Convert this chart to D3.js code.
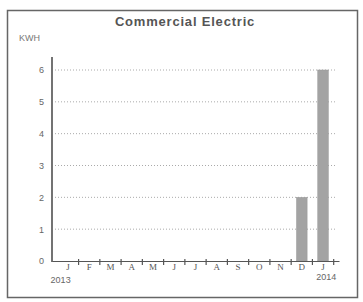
<!DOCTYPE html>
<html>
<head>
    <title>Commercial Electric</title>
    <script src="https://d3js.org/d3.v7.min.js"></script>
    <style>
        body { margin: 0; background: #fff; }
        text { font-family: "Liberation Sans", Arial, sans-serif; fill: #555; }
    </style>
</head>
<body>
    <div id="chart"></div>
    <script>
    // data
    let months = ["J", "F", "M", "A", "M", "J", "J", "A", "S", "O", "N", "D", "J"];
    let kwh = [0, 0, 0, 0, 0, 0, 0, 0, 0, 0, 0, 2, 6];
    let yTicks = [0, 1, 2, 3, 4, 5, 6];
    let years = ["2013", "2014"];

    let width = 363,
        height = 302;

    let svg = d3.select("#chart")
        .append("svg")
        .attr("width", width)
        .attr("height", height);

    // outer frame
    svg.append("rect")
        .attr("x", 7.5).attr("y", 10.5)
        .attr("width", 350).attr("height", 287)
        .attr("fill", "none")
        .attr("stroke", "#666")
        .attr("stroke-width", 1.5);

    let plotLeft = 52, plotRight = 339, plotTop = 57, plotBottom = 261;

    let idx = months.map((m, i) => i);
    let x = d3.scaleBand()
        .domain(idx)
        .range([plotLeft, plotRight])
        .padding(0.5);

    let y = d3.scaleLinear()
        .domain([0, 6])
        .range([plotBottom, 70]);

    // title + unit
    svg.append("text")
        .attr("x", 185).attr("y", 26)
        .attr("text-anchor", "middle")
        .style("font-size", "13px")
        .style("font-weight", "bold")
        .style("letter-spacing", "0.8px")
        .style("fill", "#555")
        .text("Commercial Electric");

    svg.append("text")
        .attr("x", 19).attr("y", 41)
        .style("font-size", "9px")
        .style("fill", "#777")
        .text("KWH");

    // dotted gridlines
    svg.selectAll(".grid")
        .data(yTicks.filter(d => d > 0))
        .enter()
        .append("line")
        .attr("class", "grid")
        .attr("x1", plotLeft + 3).attr("x2", plotRight - 4)
        .attr("y1", d => y(d)).attr("y2", d => y(d))
        .attr("stroke", "#aaa")
        .attr("stroke-width", 1)
        .attr("stroke-dasharray", "1,2");

    // bars
    svg.selectAll(".bar")
        .data(kwh)
        .enter()
        .append("rect")
        .attr("class", "bar")
        .attr("x", (d, i) => x(i))
        .attr("width", x.bandwidth())
        .attr("y", d => y(d))
        .attr("height", d => y(0) - y(d))
        .attr("fill", "#a3a3a3")
        .attr("stroke", "#999")
        .attr("stroke-width", 0.5);

    // y axis
    let yAxis = svg.append("g")
        .attr("transform", `translate(${plotLeft},0)`)
        .call(d3.axisLeft(y).tickValues(yTicks).tickFormat(d3.format("d")).tickSize(0).tickPadding(8));
    yAxis.select(".domain").remove();
    yAxis.selectAll("text")
        .style("font-size", "9px")
        .style("font-family", "'Liberation Sans', Arial, sans-serif")
        .style("fill", "#666");
    svg.append("line")
        .attr("x1", plotLeft).attr("x2", plotLeft)
        .attr("y1", plotTop).attr("y2", plotBottom + 1)
        .attr("stroke", "#444")
        .attr("stroke-width", 1.5);

    // x axis with month letters
    let xAxis = svg.append("g")
        .attr("transform", `translate(0,${plotBottom})`)
        .call(d3.axisBottom(x).tickSize(0).tickPadding(3).tickFormat(i => months[i]));
    xAxis.select(".domain")
        .attr("stroke", "#555")
        .attr("stroke-width", 1.2);
    xAxis.selectAll("text")
        .style("font-size", "9px")
        .style("font-family", "'Liberation Serif', serif")
        .style("fill", "#555");

    // small ticks at month boundaries
    let bounds = idx.map(i => x(i) + x.bandwidth() + (x.step() - x.bandwidth()) / 2);
    svg.selectAll(".mtick")
        .data(bounds)
        .enter()
        .append("line")
        .attr("class", "mtick")
        .attr("x1", d => d).attr("x2", d => d)
        .attr("y1", plotBottom - 2).attr("y2", plotBottom + 4)
        .attr("stroke", "#555")
        .attr("stroke-width", 1.2);

    // years under first and last month
    svg.selectAll(".year")
        .data(years)
        .enter()
        .append("text")
        .attr("class", "year")
        .attr("x", (d, i) => i === 0 ? x(0) - 2 : x(12) + x.bandwidth() + 8)
        .attr("y", (d, i) => i === 0 ? 283 : 280)
        .attr("text-anchor", (d, i) => i === 0 ? "middle" : "end")
        .style("font-size", "9px")
        .style("fill", "#666")
        .text(d => d);
    </script>
</body>
</html>
